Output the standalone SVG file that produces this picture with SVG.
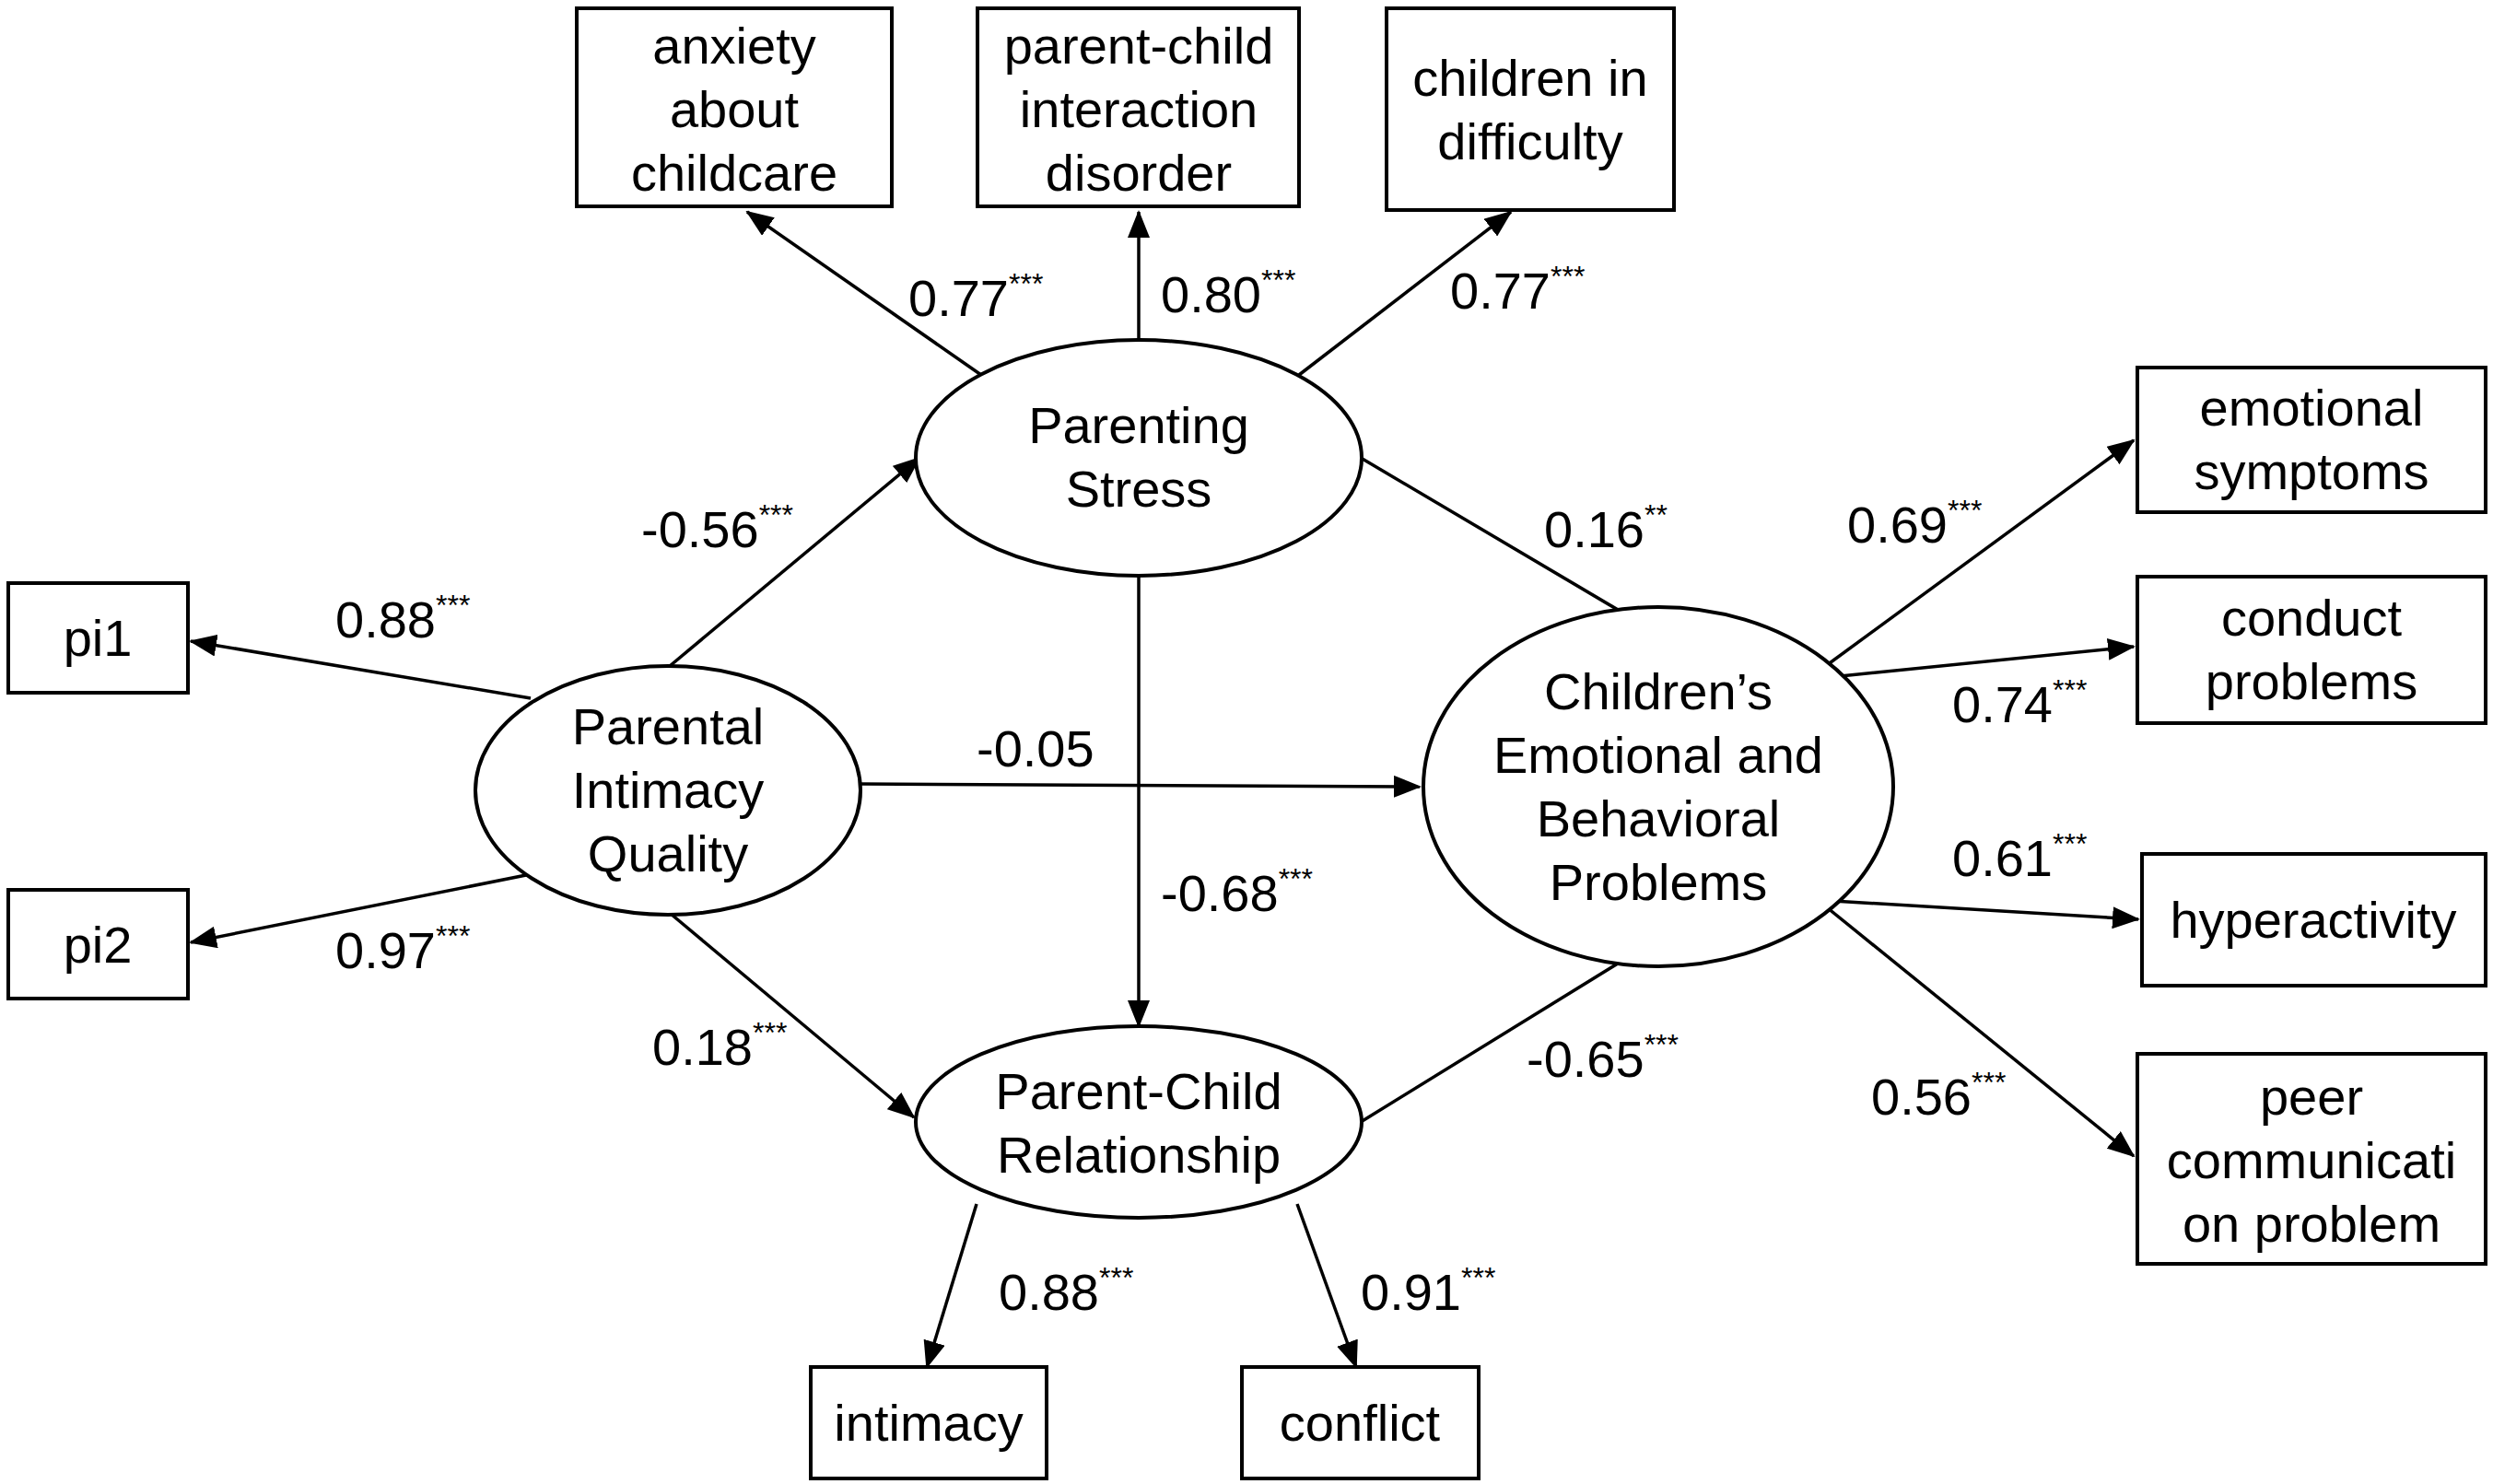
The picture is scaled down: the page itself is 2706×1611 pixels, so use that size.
<svg xmlns="http://www.w3.org/2000/svg" width="2706" height="1611" viewBox="0 0 2706 1611">
<style>
text{font-family:"Liberation Sans",Arial,sans-serif;font-size:56px;fill:#000}
.n{text-anchor:middle}
.s{font-size:32px}
rect,ellipse{fill:#fff;stroke:#000;stroke-width:4}
line{stroke:#000;stroke-width:3.5}
</style>
<defs><marker id="a" markerUnits="userSpaceOnUse" markerWidth="30" markerHeight="24" refX="28" refY="12" orient="auto"><path d="M0,0L30,12L0,24z" fill="#000"/></marker></defs>
<rect width="2706" height="1611" fill="#fff" style="stroke:none"/>
<g id="connectors" marker-end="url(#a)">
<line x1="1065" y1="407" x2="811" y2="230"/>
<line x1="1236" y1="369" x2="1236" y2="230"/>
<line x1="1410" y1="407" x2="1640" y2="230"/>
<line x1="727" y1="723" x2="998" y2="497"/>
<line x1="576" y1="758" x2="207" y2="696"/>
<line x1="576" y1="949" x2="207" y2="1023"/>
<line x1="934" y1="851" x2="1541" y2="854"/>
<line x1="1477" y1="497" x2="1795" y2="685"/>
<line x1="1236" y1="625" x2="1236" y2="1114"/>
<line x1="728" y1="992" x2="992" y2="1213"/>
<line x1="1477" y1="1218" x2="1790" y2="1025"/>
<line x1="1060" y1="1307" x2="1006" y2="1484"/>
<line x1="1408" y1="1307" x2="1472" y2="1484"/>
<line x1="1968" y1="733" x2="2316" y2="478"/>
<line x1="1968" y1="737" x2="2316" y2="702"/>
<line x1="1973" y1="977" x2="2321" y2="998"/>
<line x1="1973" y1="977" x2="2316" y2="1255"/>
</g>
<g id="anxiety"><rect x="626" y="9" width="342" height="215"/><text class="n" x="797" y="69">anxiety</text><text class="n" x="797" y="138">about</text><text class="n" x="797" y="207">childcare</text></g>
<g id="pcid"><rect x="1061" y="9" width="349" height="215"/><text class="n" x="1236" y="69">parent-child</text><text class="n" x="1236" y="138">interaction</text><text class="n" x="1236" y="207">disorder</text></g>
<g id="cid"><rect x="1505" y="9" width="312" height="219"/><text class="n" x="1661" y="104">children in</text><text class="n" x="1661" y="173">difficulty</text></g>
<g id="ps"><ellipse cx="1236" cy="497" rx="242" ry="128"/><text class="n" x="1236" y="481">Parenting</text><text class="n" x="1236" y="550">Stress</text></g>
<g id="piq"><ellipse cx="725" cy="858" rx="209" ry="135"/><text class="n" x="725" y="808">Parental</text><text class="n" x="725" y="877">Intimacy</text><text class="n" x="725" y="946">Quality</text></g>
<g id="ceb"><ellipse cx="1800" cy="854" rx="255" ry="195"/><text class="n" x="1800" y="770">Children’s</text><text class="n" x="1800" y="839">Emotional and</text><text class="n" x="1800" y="908">Behavioral</text><text class="n" x="1800" y="977">Problems</text></g>
<g id="pcr"><ellipse cx="1236" cy="1218" rx="242" ry="104"/><text class="n" x="1236" y="1204">Parent-Child</text><text class="n" x="1236" y="1273">Relationship</text></g>
<g id="pi1"><rect x="9" y="633" width="195" height="119"/><text class="n" x="106" y="712">pi1</text></g>
<g id="pi2"><rect x="9" y="966" width="195" height="118"/><text class="n" x="106" y="1045">pi2</text></g>
<g id="emo"><rect x="2320" y="399" width="378" height="157"/><text class="n" x="2509" y="462">emotional</text><text class="n" x="2509" y="531">symptoms</text></g>
<g id="cond"><rect x="2320" y="626" width="378" height="159"/><text class="n" x="2509" y="690">conduct</text><text class="n" x="2509" y="759">problems</text></g>
<g id="hyp"><rect x="2325" y="927" width="373" height="143"/><text class="n" x="2511" y="1018">hyperactivity</text></g>
<g id="peer"><rect x="2320" y="1144" width="378" height="228"/><text class="n" x="2509" y="1210">peer</text><text class="n" x="2509" y="1279">communicati</text><text class="n" x="2509" y="1348">on problem</text></g>
<g id="intimacy"><rect x="880" y="1484" width="256" height="121"/><text class="n" x="1008" y="1564">intimacy</text></g>
<g id="conflict"><rect x="1348" y="1484" width="257" height="121"/><text class="n" x="1476" y="1564">conflict</text></g>
<g id="labels">
<text x="986" y="343">0.77<tspan class="s" dy="-24">***</tspan></text>
<text x="1260" y="339">0.80<tspan class="s" dy="-24">***</tspan></text>
<text x="1574" y="335">0.77<tspan class="s" dy="-24">***</tspan></text>
<text x="696" y="594">-0.56<tspan class="s" dy="-24">***</tspan></text>
<text x="364" y="692">0.88<tspan class="s" dy="-24">***</tspan></text>
<text x="364" y="1051">0.97<tspan class="s" dy="-24">***</tspan></text>
<text x="1060" y="832">-0.05</text>
<text x="1676" y="594">0.16<tspan class="s" dy="-24">**</tspan></text>
<text x="1260" y="989">-0.68<tspan class="s" dy="-24">***</tspan></text>
<text x="708" y="1156">0.18<tspan class="s" dy="-24">***</tspan></text>
<text x="1657" y="1169">-0.65<tspan class="s" dy="-24">***</tspan></text>
<text x="1084" y="1422">0.88<tspan class="s" dy="-24">***</tspan></text>
<text x="1477" y="1422">0.91<tspan class="s" dy="-24">***</tspan></text>
<text x="2005" y="589">0.69<tspan class="s" dy="-24">***</tspan></text>
<text x="2119" y="784">0.74<tspan class="s" dy="-24">***</tspan></text>
<text x="2119" y="951">0.61<tspan class="s" dy="-24">***</tspan></text>
<text x="2031" y="1210">0.56<tspan class="s" dy="-24">***</tspan></text>
</g>
</svg>
